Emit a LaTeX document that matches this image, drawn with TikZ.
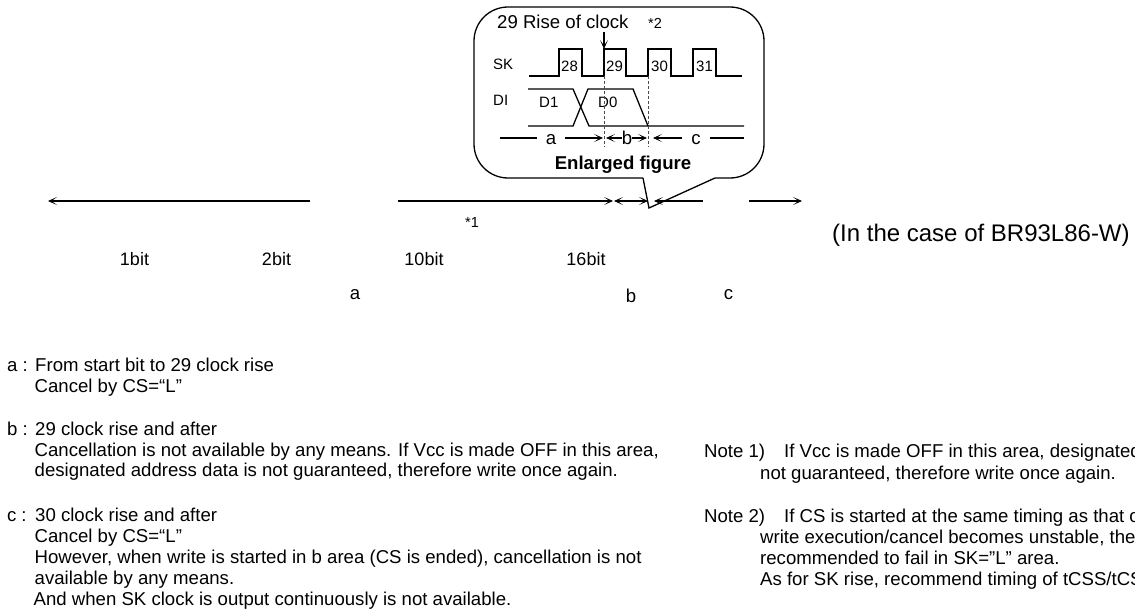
\documentclass[tikz,border=0pt]{standalone}
\usepackage{fontspec}
\setmainfont{Liberation Sans}
\usetikzlibrary{arrows.meta}
\tikzset{
  line/.style={line width=1.3pt,black,line join=miter},
  tip/.style={-{Stealth[length=9pt,width=8pt,inset=5.5pt]}},
  ttip/.style={{Stealth[length=9pt,width=8pt,inset=5.5pt]}-},
  btip/.style={{Stealth[length=9pt,width=8pt,inset=5.5pt]}-{Stealth[length=9pt,width=8pt,inset=5.5pt]}},
  guide/.style={line width=0.9pt,densely dashed,black!70},
  small/.style={font=\fontsize{14.5}{16}\selectfont,inner sep=0pt,anchor=base},
  bits/.style={font=\fontsize{18}{20}\selectfont,inner sep=0pt,anchor=base},
  label/.style={font=\fontsize{15}{17}\selectfont,inner sep=0pt},
  letter/.style={font=\fontsize{18.6}{21}\selectfont,inner sep=0pt,anchor=base},
  body/.style={font=\fontsize{18.6}{21}\selectfont,inner sep=0pt,anchor=base west},
  case/.style={font=\fontsize{24}{26}\selectfont,inner sep=0pt,anchor=base west}
}
\newcommand{\tag}[1]{\makebox[28pt][l]{#1\hspace{5pt}:}}
\begin{document}
\begin{tikzpicture}[x=1pt,y=-1pt]
\useasboundingbox (0,0) rectangle (1135,610);
\clip (0,0) rectangle (1135,610);
% callout
\draw[line,rounded corners=34pt] (643,178) -- (474,178) -- (474,7) -- (764,7) -- (764,178) -- (715,178);
\coordinate (pa) at (643,178); \coordinate (pb) at (649,208); \coordinate (pc) at (715,178);
\draw[line] (pa) -- (pb) -- (pc);
% callout text
\node[body] (rise) at (497,29) {29 Rise of clock};
\node[small,anchor=base west] (st2) at (648,29) {*2};
\node[label,anchor=west] (sk) at (493,64) {SK};
\node[label,anchor=west] (di) at (493,100) {DI};
\node[label,anchor=west] (n28) at (561,66) {28};
\node[label,anchor=west] (n29) at (606,66) {29};
\node[label,anchor=west] (n30) at (651,66) {30};
\node[label,anchor=west] (n31) at (696,66) {31};
\node[label,anchor=west] (d1) at (539,102) {D1};
\node[label,anchor=west] (d0) at (598,102) {D0};
\node[inner sep=0pt,anchor=base,font=\fontsize{18.6}{21}\selectfont\bfseries] (enl) at (623,169) {Enlarged figure};
% SK wave
\draw[line] (529,76) -- (559,76) -- (559,49) -- (582,49) -- (582,76) -- (604,76) -- (604,49) -- (626,49) -- (626,76) -- (648,76) -- (648,49) -- (671,49) -- (671,76) -- (693,76) -- (693,49) -- (716,49) -- (716,76) -- (742,76);
% DI wave
\draw[line] (528,89) -- (573,89) -- (589,126) -- (744,126);
\draw[line] (528,126) -- (573,126) -- (588,89) -- (633,89) -- (648,126);
% guides
\draw[guide] (604,76) -- (604,147);
\draw[guide] (648,76) -- (648,147);
% rise arrow
\coordinate (ra) at (604,32); \coordinate (rb) at (604,49);
\draw[line,tip] (ra) -- (rb);
% a/b/c row
\node[letter] (la) at (551,144) {a};
\node[letter] (lb) at (627,144) {b};
\node[letter] (lc) at (696,144) {c};
\coordinate (r0) at (500,138); \coordinate (r1) at (603,138); \coordinate (r2) at (606,138);
\coordinate (r3) at (647,138); \coordinate (r4) at (653,138); \coordinate (r5) at (744,138);
\coordinate (r6) at (537,138); \coordinate (r7) at (565,138); \coordinate (r8) at (682,138); \coordinate (r9) at (710,138);
\coordinate (r10) at (622,138); \coordinate (r11) at (632,138);
\draw[line] (r0) -- (r6);
\draw[line,tip] (r7) -- (r1);
\draw[line,ttip] (r2) -- (r10);
\draw[line,tip] (r11) -- (r3);
\draw[line,ttip] (r4) -- (r8);
\draw[line] (r9) -- (r5);
% main time line
\draw[line,ttip] (48,201) -- (310,201);
\draw[line,tip] (398,201) -- (613,201);
\draw[line,btip] (614,201) -- (648,201);
\draw[line,ttip] (654,201) -- (703,201);
\draw[line,tip] (749,201) -- (802,201);
% labels
\node[small] (s1) at (472,227) {*1};
\node[bits] (b1) at (134.5,265) {1bit};
\node[bits] (b2) at (276.5,265) {2bit};
\node[bits] (b10) at (424,265) {10bit};
\node[bits] (b16) at (586,265) {16bit};
\node[letter] (ta) at (355,299) {a};
\node[letter] (tb) at (631,302) {b};
\node[letter] (tc) at (728.5,299) {c};
\node[case] (case) at (832,241) {(In the case of BR93L86-W)};
% body
\node[body] (t1) at (7,371) {\tag{a}From start bit to 29 clock rise};
\node[body] (t2) at (34.5,392) {Cancel by CS=“L”};
\node[body] (t3) at (7,435) {\tag{b}29 clock rise and after};
\node[body] (t4) at (34.5,456) {Cancellation is not available by any means. If Vcc is made OFF in this area,};
\node[body] (t5) at (34.5,476) {designated address data is not guaranteed, therefore write once again.};
\node[body] (t6) at (7,521) {\tag{c}30 clock rise and after};
\node[body] (t7) at (34.5,542) {Cancel by CS=“L”};
\node[body] (t8) at (34.5,563) {However, when write is started in b area (CS is ended), cancellation is not};
\node[body] (t9) at (34.5,584) {available by any means.};
\node[body] (t10) at (33.5,605) {And when SK clock is output continuously is not available.};
% notes
\node[body] (n1) at (704,457) {Note 1)};
\node[body] (n1a) at (784,457) {If Vcc is made OFF in this area, designated};
\node[body] (n1b) at (760,479) {not guaranteed, therefore write once again.};
\node[body] (n2) at (704,522) {Note 2)};
\node[body] (n2a) at (784,522) {If CS is started at the same timing as that of};
\node[body] (n2b) at (760,543) {write execution/cancel becomes unstable, then};
\node[body] (n2c) at (760,564) {recommended to fail in SK=”L” area.};
\node[body] (n2d) at (760,585) {As for SK rise, recommend timing of tCSS/tCS};
\end{tikzpicture}
\end{document}
